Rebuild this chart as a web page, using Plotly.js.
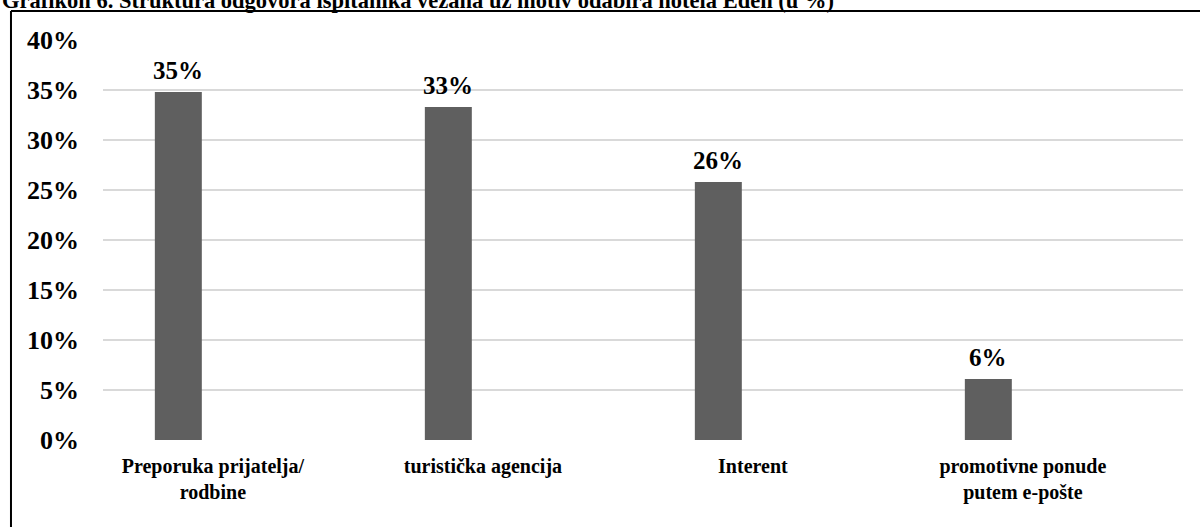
<!DOCTYPE html>
<html>
<head>
<meta charset="utf-8">
<script src="https://cdn.plot.ly/plotly-3.0.1.min.js"></script>
<style>html,body{margin:0;padding:0;background:#fff;}#chart{width:1200px;height:527px;}</style>
</head>
<body>
<div id="chart"></div>
<script>
// Data
const categories = ["Preporuka prijatelja/<br>rodbine", "turistička agencija", "Interent", "promotivne ponude<br>putem e-pošte"];
const values = [0.348, 0.333, 0.258, 0.061];
const valueLabels = ["35%", "33%", "26%", "6%"];
const titleText = "Grafikon 6. Struktura odgovora ispitanika vezana uz motiv odabira hotela Eden (u %)";

const FONT = "Liberation Serif";
const barOffset = -0.215;
const barWidth = 0.174;

const annotations = values.map((v, i) => ({
  x: i + barOffset + barWidth / 2, y: v, xref: 'x', yref: 'y',
  text: '<b>' + valueLabels[i] + '</b>', showarrow: false,
  yanchor: 'bottom', yshift: 6,
  font: {family: FONT, size: 25, color: '#000'}
}));
annotations.push({
  xref: 'paper', yref: 'paper', x: -0.0954, y: 1.0625,
  xanchor: 'left', yanchor: 'bottom',
  text: '<b>' + titleText + '</b>', showarrow: false,
  font: {family: FONT, size: 22.5, color: '#000'}
});

const trace = {
  type: 'bar', x: categories, y: values,
  offset: barOffset, width: barWidth,
  marker: {color: '#5f5f5f'},
  hoverinfo: 'skip'
};

const layout = {
  width: 1200, height: 527,
  margin: {l: 103, r: 17, t: 40, b: 87},
  paper_bgcolor: '#fff', plot_bgcolor: '#fff',
  showlegend: false,
  font: {family: FONT, color: '#000'},
  xaxis: {
    type: 'category', range: [-0.407, 3.593],
    showgrid: false, zeroline: false, showline: false, ticks: '',
    tickfont: {family: FONT, size: 20, color: '#000', weight: 'bold'},
    ticklabelstandoff: 12
  },
  yaxis: {
    range: [0, 0.4], dtick: 0.05, tickformat: '.0%',
    showgrid: true, gridcolor: '#d9d9d9', gridwidth: 1.5,
    zeroline: false, showline: false, ticks: '',
    tickfont: {family: FONT, size: 26, color: '#000', weight: 'bold'},
    ticklabelstandoff: 23
  },
  annotations: annotations,
  shapes: [
    {type: 'line', xref: 'paper', yref: 'paper', x0: -0.0852, x1: 1.2, y0: 1.0725, y1: 1.0725, line: {color: '#000', width: 2}},
    {type: 'line', xref: 'paper', yref: 'paper', x0: -0.0852, x1: -0.0852, y0: 1.0725, y1: -0.3, line: {color: '#000', width: 2}}
  ]
};

Plotly.newPlot('chart', [trace], layout, {displayModeBar: false, staticPlot: true});
</script>
</body>
</html>
